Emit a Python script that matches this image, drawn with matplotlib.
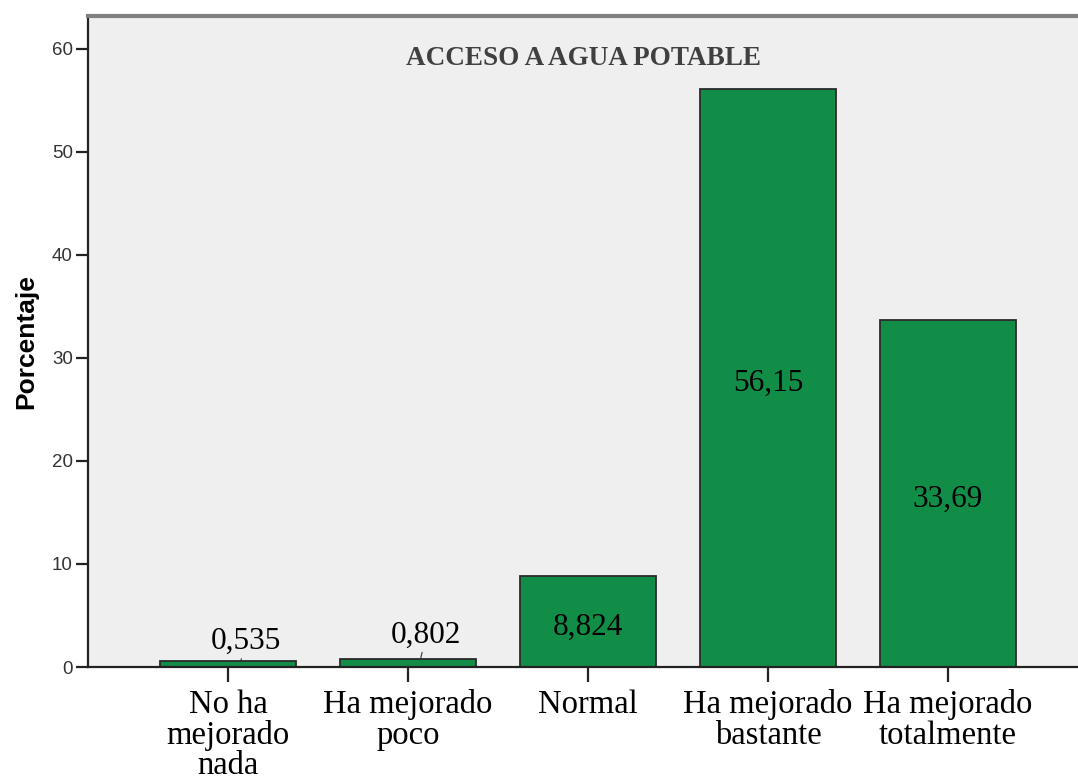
import matplotlib
matplotlib.use("Agg")
import matplotlib.pyplot as plt

categories = ["No ha\nmejorado\nnada", "Ha mejorado\npoco", "Normal", "Ha mejorado\nbastante", "Ha mejorado\ntotalmente"]
values = [0.535, 0.802, 8.824, 56.15, 33.69]
value_labels = ["0,535", "0,802", "8,824", "56,15", "33,69"]
yticks = [0, 10, 20, 30, 40, 50, 60]
title = "ACCESO A AGUA POTABLE"
ylabel = "Porcentaje"

fig = plt.figure(figsize=(10.78, 7.82), dpi=100)
ax = fig.add_axes([88/1078, 1-667/782, 1-88/1078, (667-16)/782])
ax.set_facecolor("#efefef")

x = list(range(len(categories)))
ax.bar(x, values, width=0.756, color="#118d47", edgecolor="#2a2a2a", linewidth=1.3, zorder=2)

ax.set_xlim(-0.778, 4.722)
ax.set_ylim(0, 63.2)
ax.set_yticks(yticks)
ax.set_yticklabels([str(v) for v in yticks], fontsize=13.5, color="#333333", family="Liberation Sans")
ax.set_xticks(x)
ax.set_xticklabels(categories, fontsize=23.5, family="Liberation Serif", linespacing=1.0)
ax.tick_params(axis="y", length=9, width=1.6, color="#222222", pad=2)
ax.tick_params(axis="x", length=11, width=1.6, color="#222222", pad=5)

ax.spines["right"].set_visible(False)
ax.spines["top"].set_color("#808080")
ax.spines["top"].set_linewidth(3)
ax.spines["left"].set_linewidth(1.6)
ax.spines["left"].set_color("#222222")
ax.spines["bottom"].set_linewidth(1.6)
ax.spines["bottom"].set_color("#222222")

ax.set_ylabel(ylabel, fontsize=19, fontweight="bold", family="Liberation Sans", labelpad=10)

ax.text(0.5, 0.935, title, transform=ax.transAxes, ha="center", va="center",
        fontsize=19.5, fontweight="bold", family="Liberation Serif", color="#404040")

small_offsets = [1.95, 2.3]
for i, (v, lab) in enumerate(zip(values, value_labels)):
    if v > 5:
        ax.annotate(lab, xy=(i, v / 2), xytext=(0, -4), textcoords="offset points",
                    ha="center", va="center", fontsize=22.5, family="Liberation Serif", zorder=3)
    else:
        ax.annotate(lab, xy=(i + 0.07, v), xytext=(i + 0.1, v + small_offsets[i]), ha="center", va="center",
                    fontsize=22.5, family="Liberation Serif", zorder=3,
                    arrowprops=dict(arrowstyle="-", color="#333333", lw=0.8, shrinkA=9, shrinkB=0))

fig.savefig("out.png", dpi=100)
